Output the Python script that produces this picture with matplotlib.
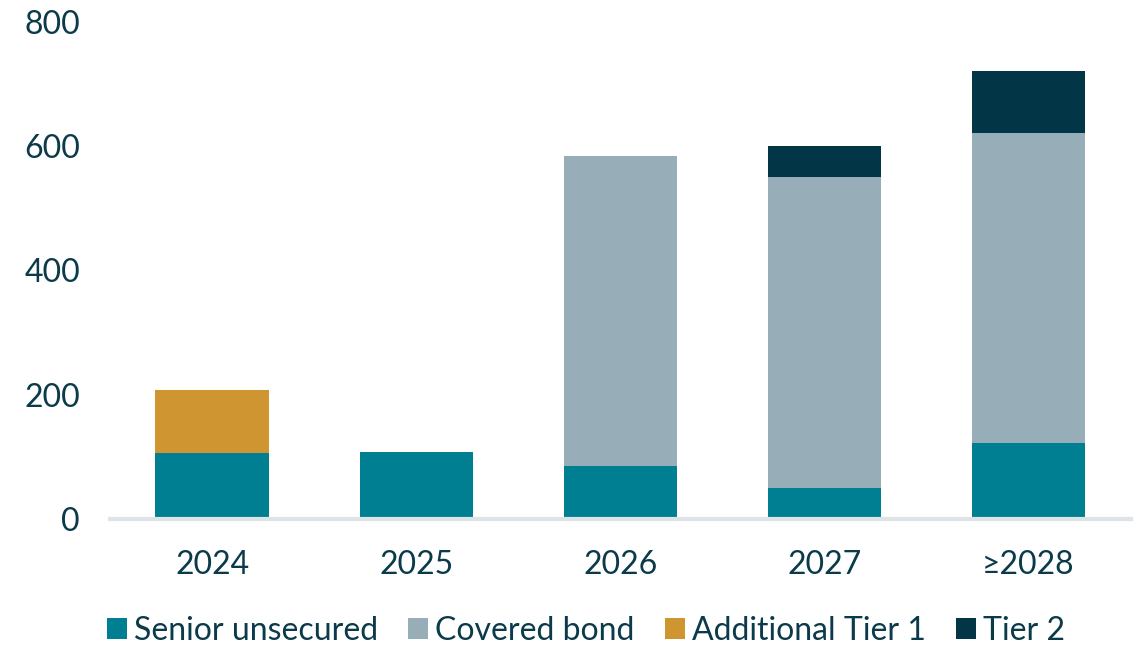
import matplotlib.pyplot as plt
import numpy as np

plt.rcParams['font.family'] = ['Lato', 'DejaVu Sans']

years = ['2024', '2025', '2026', '2027', '≥2028']
senior_unsecured = [106, 108, 85, 50, 122]
covered_bond = [0, 0, 500, 501, 500]
additional_tier1 = [102, 0, 0, 0, 0]
tier2 = [0, 0, 0, 50, 99]

series = [
    ('Senior unsecured', senior_unsecured, '#007F92'),
    ('Covered bond', covered_bond, '#97ADB8'),
    ('Additional Tier 1', additional_tier1, '#CF9530'),
    ('Tier 2', tier2, '#023546'),
]
text_color = '#0B3A4A'

fig = plt.figure(figsize=(11.39, 6.47), dpi=100)
ax = fig.add_axes([0.0966, 0.198, 0.896, 0.768])

x = np.arange(len(years))
bottom = np.zeros(len(years))
for name, vals, color in series:
    vals = np.array(vals, dtype=float)
    ax.bar(x, vals, width=0.555, bottom=bottom, color=color, label=name, zorder=2)
    bottom += vals

ax.set_xlim(-0.5, 4.5)
ax.set_ylim(0, 800)
ax.set_yticks([0, 200, 400, 600, 800])
ax.set_xticks(x)
ax.set_xticklabels(years)
ax.tick_params(axis='both', length=0, labelsize=23, colors=text_color)
ax.tick_params(axis='y', pad=21.6)
ax.tick_params(axis='x', pad=22.4)

for side in ['top', 'right', 'left']:
    ax.spines[side].set_visible(False)
ax.spines['bottom'].set_color('#DDE3E6')
ax.spines['bottom'].set_linewidth(3)
ax.spines['bottom'].set_zorder(3)

leg = fig.legend(loc='center', bbox_to_anchor=(0.5145, 0.0247), ncol=4,
                 frameon=False, fontsize=23, handlelength=0.62, handleheight=0.62,
                 handletextpad=0.22, columnspacing=0.95, borderpad=0)
for t in leg.get_texts():
    t.set_color(text_color)

fig.savefig('out.png', dpi=100)
